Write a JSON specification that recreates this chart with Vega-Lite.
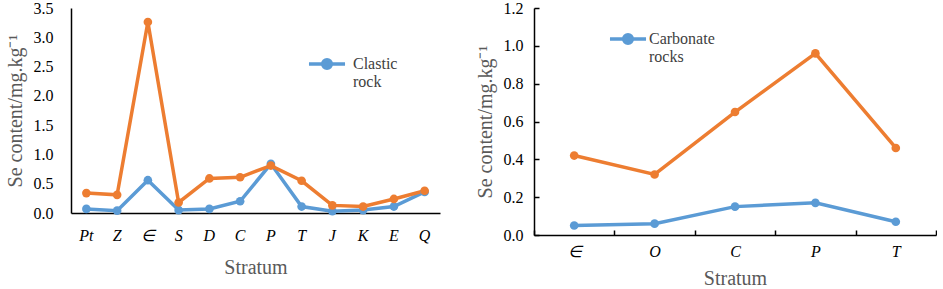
{
  "$schema": "https://vega.github.io/schema/vega-lite/v6.json",
  "padding": {"left": 5, "top": 0, "right": 0, "bottom": 0},
  "background": "white",
  "config": {
    "font": "Liberation Serif",
    "view": {"stroke": null},
    "axis": {"grid": false, "domainColor": "#000000", "domainWidth": 1.5, "labelColor": "#000000", "labelFont": "Liberation Serif", "labelFontSize": 16, "titleFont": "Liberation Serif", "titleFontSize": 20, "titleFontWeight": "normal", "titleColor": "#595959", "tickColor": "#000000", "tickWidth": 1.5},
    "legend": {"labelFont": "Liberation Serif", "labelFontSize": 16, "labelColor": "#404040"}
  },
  "hconcat": [
    {
      "width": 369,
      "height": 205,
      "data": {"values": [
        {"stratum": "Pt", "series": "Clastic rock", "se": 0.07},
        {"stratum": "Z", "series": "Clastic rock", "se": 0.04},
        {"stratum": "∈", "series": "Clastic rock", "se": 0.56},
        {"stratum": "S", "series": "Clastic rock", "se": 0.05},
        {"stratum": "D", "series": "Clastic rock", "se": 0.07},
        {"stratum": "C", "series": "Clastic rock", "se": 0.2},
        {"stratum": "P", "series": "Clastic rock", "se": 0.84},
        {"stratum": "T", "series": "Clastic rock", "se": 0.11},
        {"stratum": "J", "series": "Clastic rock", "se": 0.03},
        {"stratum": "K", "series": "Clastic rock", "se": 0.05},
        {"stratum": "E", "series": "Clastic rock", "se": 0.11},
        {"stratum": "Q", "series": "Clastic rock", "se": 0.36},
        {"stratum": "Pt", "series": "Other", "se": 0.34},
        {"stratum": "Z", "series": "Other", "se": 0.31},
        {"stratum": "∈", "series": "Other", "se": 3.26},
        {"stratum": "S", "series": "Other", "se": 0.18},
        {"stratum": "D", "series": "Other", "se": 0.59},
        {"stratum": "C", "series": "Other", "se": 0.61},
        {"stratum": "P", "series": "Other", "se": 0.81},
        {"stratum": "T", "series": "Other", "se": 0.55},
        {"stratum": "J", "series": "Other", "se": 0.13},
        {"stratum": "K", "series": "Other", "se": 0.11},
        {"stratum": "E", "series": "Other", "se": 0.24},
        {"stratum": "Q", "series": "Other", "se": 0.38}
      ]},
      "mark": {"type": "line", "strokeWidth": 3.5, "point": {"filled": true, "size": 75}},
      "encoding": {
        "x": {"field": "stratum", "type": "nominal", "sort": ["Pt", "Z", "∈", "S", "D", "C", "P", "T", "J", "K", "E", "Q"],
          "scale": {"type": "band", "paddingInner": 0, "paddingOuter": 0}, "bandPosition": 0.5,
          "axis": {"title": "Stratum", "labelAngle": 0, "ticks": false, "labelFontStyle": "italic", "labelPadding": 14, "titlePadding": 14}},
        "y": {"field": "se", "type": "quantitative", "scale": {"domain": [0, 3.5], "nice": false},
          "axis": {"title": "Se content/mg.kg⁻¹", "values": [0, 0.5, 1, 1.5, 2, 2.5, 3, 3.5], "format": ".1f", "ticks": false, "labelPadding": 18, "titlePadding": 8}},
        "color": {"field": "series", "type": "nominal",
          "scale": {"domain": ["Clastic rock", "Other"], "range": ["#5B9BD5", "#ED7D31"]},
          "legend": {"title": null, "values": ["Clastic rock"], "orient": "none", "legendX": 236, "legendY": 36,
            "labelExpr": "split(datum.label, ' ')", "labelLineHeight": 18,
            "symbolType": "M-1,0L1,0M0,-0.24A0.24,0.24 0 1,1 0,0.24A0.24,0.24 0 1,1 0,-0.24", "symbolSize": 1300, "symbolStrokeWidth": 3.5, "symbolFillColor": "#5B9BD5", "symbolStrokeColor": "#5B9BD5", "labelOffset": 6}}
      }
    },
    {
      "width": 402,
      "height": 227,
      "data": {"values": [
        {"stratum": "∈", "series": "Carbonate rocks", "se": 0.05},
        {"stratum": "O", "series": "Carbonate rocks", "se": 0.06},
        {"stratum": "C", "series": "Carbonate rocks", "se": 0.15},
        {"stratum": "P", "series": "Carbonate rocks", "se": 0.17},
        {"stratum": "T", "series": "Carbonate rocks", "se": 0.07},
        {"stratum": "∈", "series": "Other", "se": 0.42},
        {"stratum": "O", "series": "Other", "se": 0.32},
        {"stratum": "C", "series": "Other", "se": 0.65},
        {"stratum": "P", "series": "Other", "se": 0.96},
        {"stratum": "T", "series": "Other", "se": 0.46}
      ]},
      "mark": {"type": "line", "strokeWidth": 3.5, "point": {"filled": true, "size": 75}},
      "encoding": {
        "x": {"field": "stratum", "type": "nominal", "sort": ["∈", "O", "C", "P", "T"],
          "scale": {"type": "band", "paddingInner": 0, "paddingOuter": 0}, "bandPosition": 0.5,
          "axis": {"title": "Stratum", "labelAngle": 0, "tickBand": "extent", "tickSize": -5, "labelFontStyle": "italic", "labelPadding": 13, "titlePadding": 9}},
        "y": {"field": "se", "type": "quantitative", "scale": {"domain": [0, 1.2], "nice": false},
          "axis": {"title": "Se content/mg.kg⁻¹", "values": [0, 0.2, 0.4, 0.6, 0.8, 1, 1.2], "format": ".1f", "tickSize": -5, "labelPadding": 16, "titlePadding": 8}},
        "color": {"field": "series", "type": "nominal",
          "scale": {"domain": ["Carbonate rocks", "Other"], "range": ["#5B9BD5", "#ED7D31"]},
          "legend": {"title": null, "values": ["Carbonate rocks"], "orient": "none", "legendX": 74, "legendY": 11,
            "labelExpr": "split(datum.label, ' ')", "labelLineHeight": 18,
            "symbolType": "M-1,0L1,0M0,-0.24A0.24,0.24 0 1,1 0,0.24A0.24,0.24 0 1,1 0,-0.24", "symbolSize": 1300, "symbolStrokeWidth": 3.5, "symbolFillColor": "#5B9BD5", "symbolStrokeColor": "#5B9BD5", "labelOffset": 1}}
      }
    }
  ],
  "spacing": 35,
  "resolve": {"scale": {"color": "independent"}}
}
